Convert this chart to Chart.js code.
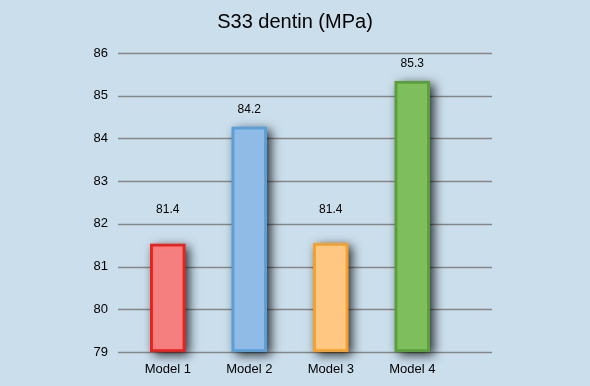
<!DOCTYPE html>
<html>
<head>
<meta charset="utf-8">
<script src="https://cdn.jsdelivr.net/npm/chart.js@4.4.0/dist/chart.umd.min.js"></script>
<style>
  body { margin: 0; background: #cadeec; }
  canvas { display: block; }
</style>
</head>
<body>
<canvas id="myChart" width="590" height="386"></canvas>
<script>
// data
const categories = ["Model 1", "Model 2", "Model 3", "Model 4"];
const values = [81.53, 84.27, 81.55, 85.34];
const valueLabels = ["81.4", "84.2", "81.4", "85.3"];
const yTicks = [79, 80, 81, 82, 83, 84, 85, 86];

// styles
const fillColors = ["#f47f7e", "#8fbbe6", "#ffc782", "#7fbe5d"];
const borderColors = ["#e8231f", "#5a9fd8", "#f5a02c", "#5a9f3c"];
const labelGap = [34, 17, 33, 18];
const FONT = "'Liberation Sans', Arial, sans-serif";

// gridlines extend past the bars on the right, so draw them from the y scale
const gridPlugin = {
  id: "grid",
  beforeDatasetsDraw(chart) {
    const ctx = chart.ctx;
    const y = chart.scales.y;
    ctx.save();
    ctx.strokeStyle = "#878787";
    ctx.lineWidth = 1.6;
    yTicks.forEach((t) => {
      const py = Math.round(y.getPixelForValue(t)) + 0.5;
      ctx.beginPath();
      ctx.moveTo(118, py);
      ctx.lineTo(492, py);
      ctx.stroke();
    });
    // soft shadow behind each bar
    const meta = chart.getDatasetMeta(0);
    meta.data.forEach((bar, i) => {
      const p = bar.getProps(["x", "y", "base", "width"], true);
      ctx.shadowColor = "rgba(0,0,0,0.8)";
      ctx.shadowBlur = 10;
      ctx.shadowOffsetX = 4;
      ctx.shadowOffsetY = 3;
      ctx.fillStyle = borderColors[i];
      ctx.fillRect(p.x - p.width / 2, p.y, p.width, p.base - p.y);
    });
    ctx.restore();
  },
  afterDatasetsDraw(chart) {
    const ctx = chart.ctx;
    const meta = chart.getDatasetMeta(0);
    ctx.save();
    ctx.font = "12px " + FONT;
    ctx.fillStyle = "#000";
    ctx.textAlign = "center";
    ctx.textBaseline = "middle";
    meta.data.forEach((bar, i) => {
      ctx.fillText(valueLabels[i], bar.x, bar.y - labelGap[i]);
    });
    ctx.restore();
  },
};

const data = {
  labels: categories,
  datasets: [
    {
      data: values,
      base: 79,
      backgroundColor: fillColors,
      borderColor: borderColors,
      borderWidth: 3,
      borderSkipped: false,
      barThickness: 35,
    },
  ],
};

const config = {
  type: "bar",
  data,
  options: {
    responsive: false,
    animation: false,
    plugins: {
      legend: { display: false },
      tooltip: { enabled: false },
      title: {
        display: true,
        text: "S33 dentin (MPa)",
        color: "#000",
        font: { family: FONT, size: 20, weight: "normal" },
        padding: { top: 10, bottom: 19 },
      },
    },
    scales: {
      x: {
        grid: { display: false, drawTicks: false },
        border: { display: false },
        ticks: {
          color: "#000",
          padding: 10,
          font: { family: FONT, size: 13 },
        },
        afterFit(scale) { scale.height = 34; },
      },
      y: {
        min: 79,
        max: 86,
        grid: { display: false, drawTicks: false },
        border: { display: false },
        ticks: {
          stepSize: 1,
          color: "#000",
          padding: 19,
          font: { family: FONT, size: 13 },
        },
        afterFit(scale) { scale.width = 127; },
      },
      // empty right-hand axis keeps the bars in the left part of the grid
      yRight: {
        position: "right",
        grid: { display: false, drawTicks: false },
        border: { display: false },
        ticks: { display: false },
        afterFit(scale) { scale.width = 137; },
      },
    },
  },
  plugins: [gridPlugin],
};

const myChart = new Chart(document.getElementById("myChart"), config);
</script>
</body>
</html>
